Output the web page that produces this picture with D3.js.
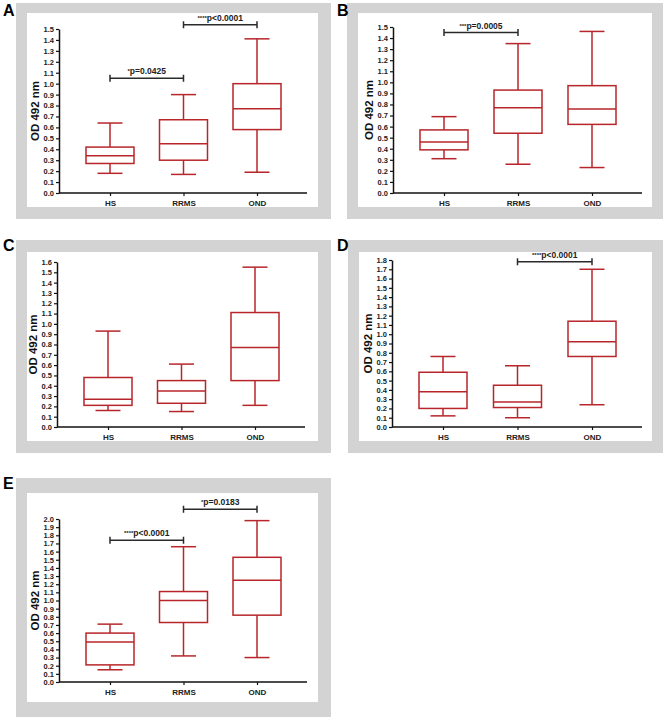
<!DOCTYPE html>
<html>
<head>
<meta charset="utf-8">
<script src="https://cdn.jsdelivr.net/npm/d3@7"></script>
<style>
  body { margin: 0; background: #fff; }
  svg { display: block; }
  text { font-family: "Liberation Sans", Arial, sans-serif; font-weight: bold; }
</style>
</head>
<body>
<div id="chart"></div>
<script>
const groups = ["HS", "RRMS", "OND"];

// each box: [min, q1, median, q3, max]
const boxesA = [[0.18, 0.27, 0.34, 0.42, 0.64], [0.17, 0.30, 0.45, 0.67, 0.90], [0.19, 0.58, 0.77, 1.00, 1.41]];
const boxesB = [[0.31, 0.39, 0.46, 0.57, 0.69], [0.26, 0.54, 0.77, 0.93, 1.35], [0.23, 0.62, 0.76, 0.97, 1.46]];
const boxesC = [[0.16, 0.21, 0.27, 0.48, 0.93], [0.15, 0.23, 0.35, 0.45, 0.61], [0.21, 0.45, 0.77, 1.11, 1.55]];
const boxesD = [[0.12, 0.20, 0.38, 0.59, 0.76], [0.10, 0.21, 0.27, 0.45, 0.66], [0.24, 0.76, 0.92, 1.14, 1.70]];
const boxesE = [[0.15, 0.21, 0.49, 0.60, 0.71], [0.32, 0.73, 1.00, 1.11, 1.66], [0.30, 0.82, 1.25, 1.53, 1.98]];

const yMax = { A: 1.5, B: 1.5, C: 1.6, D: 1.8, E: 2.0 };

// significance brackets: [from, to, value, stars, text]
const sigA = [["HS", "RRMS", 1.05, "*", "p=0.0425"], ["RRMS", "OND", 1.54, "****", "p<0.0001"]];
const sigB = [["HS", "RRMS", 1.45, "***", "p=0.0005"]];
const sigC = [];
const sigD = [["RRMS", "OND", 1.78, "****", "p<0.0001"]];
const sigE = [["HS", "RRMS", 1.74, "****", "p<0.0001"], ["RRMS", "OND", 2.12, "*", "p=0.0183"]];

const yTitle = "OD 492 nm";

const W = 666, H = 719;
const red = "#b8262b";

const svg = d3.select("#chart").append("svg")
    .attr("width", W)
    .attr("height", H);

// frame = grey box, inner = white box, ax = axis extents
const panels = [
    { key: "A", boxes: boxesA, sig: sigA, lx: 3, ly: 16,  frame: [16, 3, 315, 216],  inner: [27, 13, 291, 194],  ax: [59, 307, 193, 29] },
    { key: "B", boxes: boxesB, sig: sigB, lx: 337, ly: 16, frame: [347, 3, 316, 216], inner: [358, 13, 294, 194], ax: [393, 642, 193, 27] },
    { key: "C", boxes: boxesC, sig: sigC, lx: 3, ly: 251, frame: [16, 240, 315, 213], inner: [27, 252, 291, 189], ax: [57, 305, 427, 262] },
    { key: "D", boxes: boxesD, sig: sigD, lx: 337, ly: 251, frame: [348, 240, 315, 213], inner: [359, 252, 293, 189], ax: [392, 642, 427, 260] },
    { key: "E", boxes: boxesE, sig: sigE, lx: 3, ly: 489, frame: [16, 478, 315, 239], inner: [27, 493, 291, 209], ax: [59, 307, 682, 519] }
];

function drawPanel(p) {
    const g = svg.append("g");
    const [x0, x1, y0, y1] = p.ax;

    g.append("rect")
        .attr("x", p.frame[0]).attr("y", p.frame[1])
        .attr("width", p.frame[2]).attr("height", p.frame[3])
        .attr("fill", "#d3d3d3");
    g.append("rect")
        .attr("x", p.inner[0]).attr("y", p.inner[1])
        .attr("width", p.inner[2]).attr("height", p.inner[3])
        .attr("fill", "#fff");

    g.append("text")
        .attr("x", p.lx).attr("y", p.ly)
        .style("font-size", "16px")
        .text(p.key);

    const x = d3.scalePoint()
        .domain(groups)
        .range([x0 + 51, x1 - 50]);

    const y = d3.scaleLinear()
        .domain([0, yMax[p.key]])
        .range([y0, y1]);

    const ticks = d3.range(0, Math.round(yMax[p.key] * 10) + 1).map(i => i / 10);

    const yAxis = g.append("g")
        .attr("transform", `translate(${x0},0)`)
        .call(d3.axisLeft(y).tickValues(ticks).tickFormat(d3.format(".1f")).tickSize(3).tickPadding(2).tickSizeOuter(0));
    yAxis.select(".domain").attr("stroke", "#111").attr("stroke-width", 1.5);
    yAxis.selectAll(".tick line").attr("stroke", "#111").attr("stroke-width", 1.2);
    yAxis.selectAll(".tick text").style("font-size", "7.5px").attr("fill", "#222")
        .style("font-family", "'Liberation Sans', Arial, sans-serif").style("font-weight", "bold");

    const xAxis = g.append("g")
        .attr("transform", `translate(0,${y0})`)
        .call(d3.axisBottom(x).tickSize(3).tickPadding(4).tickSizeOuter(0));
    xAxis.select(".domain").attr("d", `M${x0},0H${x1}`).attr("stroke", "#111").attr("stroke-width", 1.5);
    xAxis.selectAll(".tick line").attr("stroke", "#111").attr("stroke-width", 1.2);
    xAxis.selectAll(".tick text").style("font-size", "8px").attr("fill", "#222")
        .style("font-family", "'Liberation Sans', Arial, sans-serif").style("font-weight", "bold");

    g.append("text")
        .attr("transform", `translate(${x0 - 20},${(y0 + y1) / 2}) rotate(-90)`)
        .attr("text-anchor", "middle")
        .style("font-size", "11.5px")
        .attr("fill", "#111")
        .text(yTitle);

    const boxW = 48, capW = 25;
    const bx = g.selectAll(".box")
        .data(p.boxes.map((b, i) => ({ group: groups[i], v: b })))
        .enter().append("g")
        .attr("fill", "none")
        .attr("stroke", red)
        .attr("stroke-width", 1.5);

    // whiskers
    bx.append("line")
        .attr("x1", d => x(d.group)).attr("x2", d => x(d.group))
        .attr("y1", d => y(d.v[0])).attr("y2", d => y(d.v[1]));
    bx.append("line")
        .attr("x1", d => x(d.group)).attr("x2", d => x(d.group))
        .attr("y1", d => y(d.v[3])).attr("y2", d => y(d.v[4]));
    // caps
    bx.append("line")
        .attr("x1", d => x(d.group) - capW / 2).attr("x2", d => x(d.group) + capW / 2)
        .attr("y1", d => y(d.v[0])).attr("y2", d => y(d.v[0]));
    bx.append("line")
        .attr("x1", d => x(d.group) - capW / 2).attr("x2", d => x(d.group) + capW / 2)
        .attr("y1", d => y(d.v[4])).attr("y2", d => y(d.v[4]));
    // box
    bx.append("rect")
        .attr("x", d => x(d.group) - boxW / 2)
        .attr("width", boxW)
        .attr("y", d => y(d.v[3]))
        .attr("height", d => y(d.v[1]) - y(d.v[3]));
    // median
    bx.append("line")
        .attr("x1", d => x(d.group) - boxW / 2).attr("x2", d => x(d.group) + boxW / 2)
        .attr("y1", d => y(d.v[2])).attr("y2", d => y(d.v[2]));

    // significance brackets
    const sg = g.selectAll(".sig")
        .data(p.sig)
        .enter().append("g");
    sg.append("path")
        .attr("d", d => {
            const xa = x(d[0]), xb = x(d[1]), yy = y(d[2]);
            return `M${xa},${yy - 3.5}V${yy + 3.5}M${xa},${yy}H${xb}M${xb},${yy - 3.5}V${yy + 3.5}`;
        })
        .attr("fill", "none")
        .attr("stroke", "#2a2a2a")
        .attr("stroke-width", 1.5);
    const st = sg.append("text")
        .attr("x", d => (x(d[0]) + x(d[1])) / 2)
        .attr("y", d => y(d[2]) - 4)
        .attr("text-anchor", "middle")
        .attr("fill", "#222")
        .style("font-size", "8.5px");
    st.append("tspan")
        .style("font-size", "6px")
        .attr("dy", -1)
        .text(d => d[3]);
    st.append("tspan")
        .attr("dy", 1)
        .text(d => d[4]);
}

panels.forEach(drawPanel);
</script>
</body>
</html>
